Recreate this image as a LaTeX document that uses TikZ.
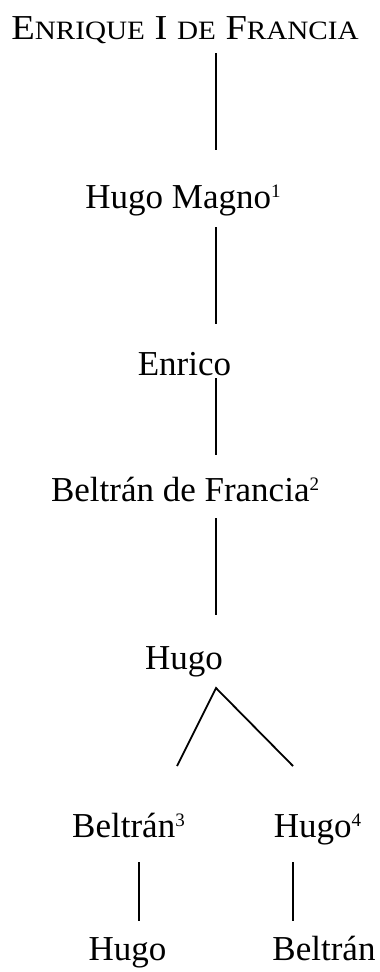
\documentclass[tikz,border=0pt]{standalone}
\usepackage{fontspec}
\setmainfont{Liberation Serif}
\begin{document}
\begin{tikzpicture}[x=1pt,y=-1pt,
  person/.style={anchor=base,inner sep=0pt,font=\fontsize{35}{40}\selectfont},
  kinline/.style={line width=1.8pt,line cap=butt}]
\useasboundingbox[fill=white] (0,0) rectangle (380,972);
\newcommand{\smc}[1]{{\fontsize{26.5}{30}\selectfont #1}}
\newcommand{\supnum}[1]{\raisebox{11pt}{\fontsize{19}{20}\selectfont #1}}
\node[person] (t) at (185,39) {\scalebox{1.1}[1]{E\smc{NRIQUE} I \smc{DE} F\smc{RANCIA}}};
\node[person] (hm) at (183,208) {Hugo Magno\supnum{1}};
\node[person] (en) at (184.5,375) {Enrico};
\node[person] (bf) at (185,501) {Beltrán de Francia\supnum{2}};
\node[person] (hu) at (184,669) {Hugo};
\node[person] (b3) at (128.5,837) {Beltrán\supnum{3}};
\node[person] (h4) at (317.5,837) {Hugo\supnum{4}};
\node[person] (hl) at (127.5,960) {Hugo};
\node[person] (br) at (324,960) {Beltrán};
\coordinate (a1) at (216,53);  \coordinate (a2) at (216,150);
\coordinate (b1) at (216,227); \coordinate (b2) at (216,324);
\coordinate (c1) at (216,378); \coordinate (c2) at (216,455);
\coordinate (d1) at (216,518); \coordinate (d2) at (216,615);
\coordinate (apex) at (216,688);
\coordinate (lf) at (177,766); \coordinate (rt) at (293,766);
\coordinate (e1) at (139,862); \coordinate (e2) at (139,921);
\coordinate (f1) at (293,862); \coordinate (f2) at (293,921);
\draw[kinline] (a1) -- (a2);
\draw[kinline] (b1) -- (b2);
\draw[kinline] (c1) -- (c2);
\draw[kinline] (d1) -- (d2);
\draw[kinline] (lf) -- (apex) -- (rt);
\draw[kinline] (e1) -- (e2);
\draw[kinline] (f1) -- (f2);
\end{tikzpicture}
\end{document}
